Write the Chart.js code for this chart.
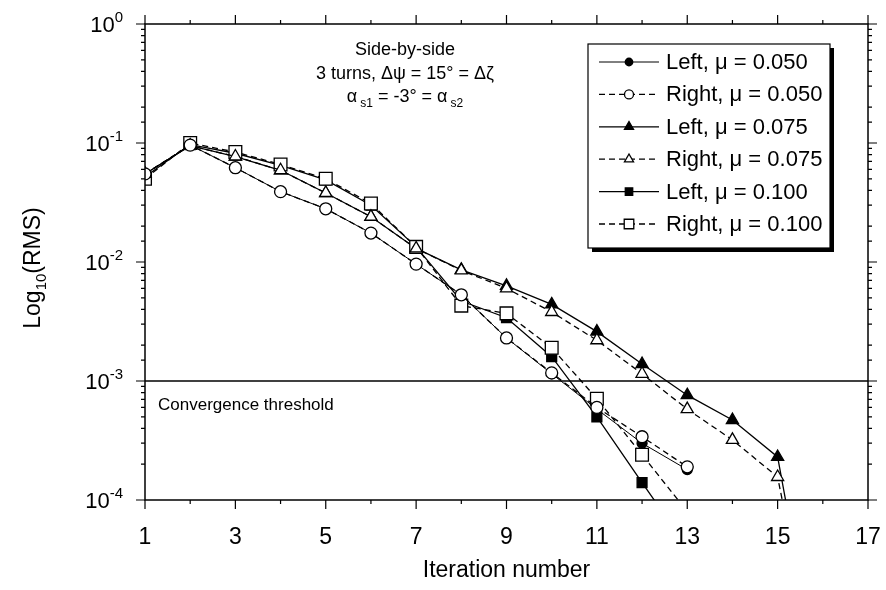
<!DOCTYPE html>
<html>
<head>
<meta charset="utf-8">
<script src="https://cdn.jsdelivr.net/npm/chart.js@4/dist/chart.umd.min.js"></script>
<style>
  html, body { margin: 0; padding: 0; background: #fff; }
  #wrap { width: 886px; height: 590px; }
</style>
</head>
<body>
<div id="wrap"><canvas id="c" width="886" height="590"></canvas></div>
<script>
// Datos
const iterations = [1, 2, 3, 4, 5, 6, 7, 8, 9, 10, 11, 12, 13, 14, 15, 16];
const left050  = [0.055, 0.096, 0.062, 0.039, 0.028, 0.0175, 0.0096, 0.0053, 0.0023, 0.00115, 0.00058, 0.0003, 0.00018, null, null, null];
const right050 = [0.055, 0.096, 0.062, 0.039, 0.028, 0.0175, 0.0096, 0.0053, 0.0023, 0.00117, 0.0006, 0.00034, 0.00019, null, null, null];
const left075  = [0.055, 0.095, 0.077, 0.059, 0.038, 0.024, 0.013, 0.0086, 0.0063, 0.0044, 0.0026, 0.00139, 0.00076, 0.00047, 0.00023, 0.000002];
const right075 = [0.055, 0.095, 0.077, 0.059, 0.038, 0.024, 0.013, 0.0085, 0.006, 0.0038, 0.0022, 0.00115, 0.00058, 0.00032, 0.000156, 0.000002];
const left100  = [0.052, 0.097, 0.082, 0.065, 0.049, 0.030, 0.0134, 0.0047, 0.0034, 0.0016, 0.0005, 0.00014, 0.00004, null, null, null];
const right100 = [0.050, 0.100, 0.084, 0.066, 0.050, 0.031, 0.0134, 0.0043, 0.0037, 0.0019, 0.00071, 0.00024, 0.00008, null, null, null];

const seriesLabels = ['Left, \u03bc = 0.050', 'Right, \u03bc = 0.050', 'Left, \u03bc = 0.075',
                      'Right, \u03bc = 0.075', 'Left, \u03bc = 0.100', 'Right, \u03bc = 0.100'];
const xTicks = [1, 3, 5, 7, 9, 11, 13, 15, 17];
const yDecades = [0, -1, -2, -3, -4];
const threshold = 0.001;
const annoLines = ['Side-by-side', '3 turns, \u0394\u03c8 = 15\u00b0 = \u0394\u03b6'];

const FONT = '"Liberation Sans", Arial, Helvetica, sans-serif';
const pts = (vals) => iterations.map((x, i) => ({ x, y: vals[i] }));

function ds(label, vals, opts) {
  return Object.assign({
    label, data: pts(vals), borderColor: '#000', backgroundColor: '#000',
    pointBorderColor: '#000', pointBorderWidth: 1.3, borderWidth: 1.3,
    tension: 0, spanGaps: false
  }, opts);
}

// order: las series "Right" (huecas) se dibujan encima
const datasets = [
  ds(seriesLabels[0], left050,  { order: 2, pointStyle: 'circle', pointRadius: 5, pointBackgroundColor: '#000', borderWidth: 1 }),
  ds(seriesLabels[1], right050, { order: 1, pointStyle: 'circle', pointRadius: 6, pointBackgroundColor: '#fff', borderDash: [6, 4] }),
  ds(seriesLabels[2], left075,  { order: 2, pointStyle: 'triangle', pointRadius: 7, pointBackgroundColor: '#000' }),
  ds(seriesLabels[3], right075, { order: 1, pointStyle: 'triangle', pointRadius: 7, pointBackgroundColor: '#fff', borderDash: [6, 4] }),
  ds(seriesLabels[4], left100,  { order: 2, pointStyle: 'rect', pointRadius: 7, pointBackgroundColor: '#000' }),
  ds(seriesLabels[5], right100, { order: 1, pointStyle: 'rect', pointRadius: 9, pointBackgroundColor: '#fff', borderDash: [6, 4] })
];

// texto con superíndice
function drawSup(ctx, base, sup, xRight, y, size) {
  ctx.font = size + 'px ' + FONT;
  const wb = ctx.measureText(base).width;
  ctx.font = Math.round(size * 0.68) + 'px ' + FONT;
  const ws = ctx.measureText(sup).width;
  ctx.textAlign = 'left';
  ctx.textBaseline = 'middle';
  ctx.font = size + 'px ' + FONT;
  ctx.fillText(base, xRight - wb - ws, y);
  ctx.font = Math.round(size * 0.68) + 'px ' + FONT;
  ctx.fillText(sup, xRight - ws, y - size * 0.38);
}

const decorPlugin = {
  id: 'decor',
  beforeDraw(chart) {
    const ctx = chart.ctx;
    ctx.save();
    ctx.fillStyle = '#fff';
    ctx.fillRect(0, 0, chart.width, chart.height);
    ctx.restore();
  },
  afterDatasetsDraw(chart) {
    const { ctx, chartArea: a, scales: { x, y } } = chart;
    ctx.save();
    ctx.strokeStyle = '#000';
    ctx.fillStyle = '#000';

    // línea de umbral
    const ty = y.getPixelForValue(threshold);
    ctx.lineWidth = 1.5;
    ctx.beginPath(); ctx.moveTo(a.left, ty); ctx.lineTo(a.right, ty); ctx.stroke();
    ctx.font = '17px ' + FONT;
    ctx.textAlign = 'left'; ctx.textBaseline = 'middle';
    ctx.fillText('Convergence threshold', a.left + 13, ty + 24);

    // marco
    ctx.lineWidth = 1.5;
    ctx.strokeRect(a.left, a.top, a.right - a.left, a.bottom - a.top);

    // marcas eje x
    ctx.lineWidth = 1.2;
    for (let v = 1; v <= 17; v++) {
      const px = x.getPixelForValue(v);
      const len = (v % 2) ? 9 : 4;
      ctx.beginPath();
      ctx.moveTo(px, a.bottom); ctx.lineTo(px, a.bottom + len);
      ctx.moveTo(px, a.top); ctx.lineTo(px, a.top - len);
      ctx.stroke();
    }
    // marcas eje y (log)
    y.ticks.forEach(t => {
      const lg = Math.log10(t.value);
      const major = Math.abs(lg - Math.round(lg)) < 1e-6;
      const py = y.getPixelForValue(t.value);
      const len = major ? 9 : 4;
      ctx.beginPath();
      ctx.moveTo(a.left, py); ctx.lineTo(a.left - len, py);
      ctx.moveTo(a.right, py); ctx.lineTo(a.right + len, py);
      ctx.stroke();
    });

    // etiquetas eje x
    ctx.font = '23px ' + FONT;
    ctx.textAlign = 'center'; ctx.textBaseline = 'middle';
    xTicks.forEach(v => ctx.fillText(String(v), x.getPixelForValue(v), a.bottom + 38));
    ctx.fillText('Iteration number', (a.left + a.right) / 2, a.bottom + 71);

    // etiquetas eje y
    yDecades.forEach(d => {
      const py = y.getPixelForValue(Math.pow(10, d));
      drawSup(ctx, '10', d === 0 ? '0' : '-' + (-d), a.left - 22, py + 2, 22);
    });

    // título eje y
    ctx.save();
    ctx.translate(34, (a.top + a.bottom) / 2 + 6);
    ctx.rotate(-Math.PI / 2);
    ctx.textBaseline = 'middle';
    ctx.font = '23px ' + FONT;
    const w1 = ctx.measureText('Log').width;
    ctx.font = '15px ' + FONT;
    const w2 = ctx.measureText('10').width;
    ctx.font = '23px ' + FONT;
    const w3 = ctx.measureText('(RMS)').width;
    const sx = -(w1 + w2 + w3) / 2;
    ctx.textAlign = 'left';
    ctx.fillText('Log', sx, 0);
    ctx.font = '15px ' + FONT;
    ctx.fillText('10', sx + w1, 8);
    ctx.font = '23px ' + FONT;
    ctx.fillText('(RMS)', sx + w1 + w2, 0);
    ctx.restore();

    // anotación
    const cx = 405;
    ctx.font = '18px ' + FONT;
    ctx.textAlign = 'center'; ctx.textBaseline = 'middle';
    ctx.fillText(annoLines[0], cx, 50);
    ctx.fillText(annoLines[1], cx, 74);
    // α_s1 = -3° = α_s2
    const parts = [['\u03b1', 18, 0], ['s1', 12, 7], [' = -3\u00b0 = ', 18, 0], ['\u03b1', 18, 0], ['s2', 12, 7]];
    let tw = 0;
    parts.forEach(p => { ctx.font = p[1] + 'px ' + FONT; tw += ctx.measureText(p[0]).width + (p[1] === 12 ? 3 : 0); });
    let ax = cx - tw / 2;
    ctx.textAlign = 'left';
    parts.forEach(p => {
      ctx.font = p[1] + 'px ' + FONT;
      const sub = p[1] === 12;
      ctx.fillText(p[0], ax + (sub ? 3 : 0), 97 + p[2]);
      ax += ctx.measureText(p[0]).width + (sub ? 3 : 0);
    });

    // leyenda
    const bx = 588, by = 44, bw = 242, bh = 204;
    ctx.fillStyle = '#000';
    ctx.fillRect(bx + 4, by + 4, bw, bh);
    ctx.fillStyle = '#fff';
    ctx.fillRect(bx, by, bw, bh);
    ctx.lineWidth = 1.2;
    ctx.strokeRect(bx, by, bw, bh);
    chart.data.datasets.forEach((d, i) => {
      const ry = by + 18 + i * 32.4;
      ctx.save();
      ctx.strokeStyle = '#000';
      ctx.lineWidth = d.borderWidth;
      ctx.setLineDash(d.borderDash || []);
      ctx.beginPath(); ctx.moveTo(bx + 11, ry); ctx.lineTo(bx + 71, ry); ctx.stroke();
      ctx.setLineDash([]);
      ctx.fillStyle = d.pointBackgroundColor;
      ctx.lineWidth = 1.3;
      Chart.helpers.drawPoint(ctx, { pointStyle: d.pointStyle, radius: d.pointRadius * 0.75, borderWidth: 1.3 }, bx + 41, ry);
      ctx.fillStyle = '#000';
      ctx.font = '22px ' + FONT;
      ctx.textAlign = 'left'; ctx.textBaseline = 'middle';
      ctx.fillText(d.label, bx + 78, ry + 1);
      ctx.restore();
    });
    ctx.restore();
  }
};

new Chart(document.getElementById('c'), {
  type: 'line',
  data: { datasets },
  options: {
    responsive: false,
    animation: false,
    layout: { padding: { top: 24, right: 18, left: 0, bottom: 0 } },
    plugins: { legend: { display: false }, tooltip: { enabled: false } },
    scales: {
      x: {
        type: 'linear', min: 1, max: 17,
        ticks: { display: false, stepSize: 1 },
        grid: { display: false }, border: { display: false },
        afterFit: (s) => { s.height = 90; }
      },
      y: {
        type: 'logarithmic', min: 0.0001, max: 1,
        ticks: { display: false },
        grid: { display: false }, border: { display: false },
        afterFit: (s) => { s.width = 145; }
      }
    }
  },
  plugins: [decorPlugin]
});
</script>
</body>
</html>
